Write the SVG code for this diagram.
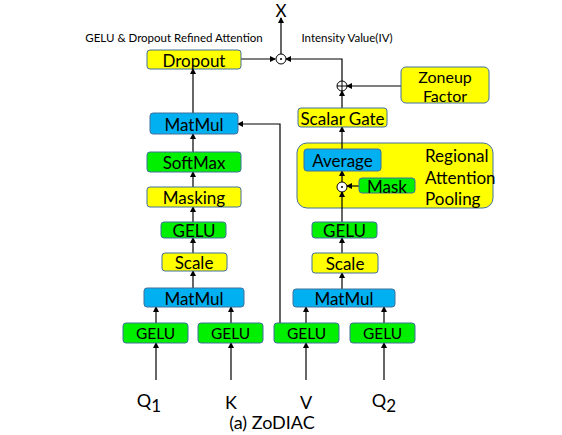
<svg xmlns="http://www.w3.org/2000/svg" width="562" height="435" viewBox="0 0 562 435">
<defs>
<marker id="ah" markerWidth="6" markerHeight="6" refX="5" refY="3" orient="auto" markerUnits="userSpaceOnUse">
<path d="M0,0 L6,3 L0,6 z" fill="#000"/>
</marker>
<style>
.box{stroke:#41719C;stroke-width:1}
.y{fill:#FFFF00}.g{fill:#00F000}.b{fill:#00B0F0}
.t{font-family:Lato,"Liberation Sans",sans-serif;fill:#000;text-anchor:middle;dominant-baseline:central}
.c{fill:none;stroke:#000;stroke-width:1.2}
.a{marker-end:url(#ah)}
.op{fill:#fff;stroke:#000;stroke-width:1}
.lbl{font-family:Lato,"Liberation Sans",sans-serif;fill:#000}
</style>
</defs>
<rect width="562" height="435" fill="#fff"/>

<g id="regional_pooling">
<rect class="box y" x="297" y="143" width="196" height="65" rx="10"/>
<text class="lbl" x="425" y="155" font-size="17" dominant-baseline="central">Regional</text>
<text class="lbl" x="425" y="177" font-size="17" dominant-baseline="central">Attention</text>
<text class="lbl" x="425" y="198" font-size="17" dominant-baseline="central">Pooling</text>
</g>

<g id="connectors">
<path class="c a" d="M156,380 V343"/>
<path class="c a" d="M231,380 V343"/>
<path class="c a" d="M306,380 V343"/>
<path class="c a" d="M384,380 V343"/>
<path class="c a" d="M156,323 V307"/>
<path class="c a" d="M231,323 V307"/>
<path class="c a" d="M306,323 V307"/>
<path class="c a" d="M384,323 V307"/>
<path class="c a" d="M280,323 V124 H238"/>
<path class="c a" d="M193,288 V271"/>
<path class="c a" d="M193,253 V238"/>
<path class="c a" d="M193,222 V207"/>
<path class="c a" d="M193,187 V172"/>
<path class="c a" d="M193,152 V134"/>
<path class="c a" d="M193,113 V69"/>
<path class="c a" d="M241,59 H275"/>
<path class="c a" d="M281,54 V18"/>
<path class="c a" d="M342,289 V273"/>
<path class="c a" d="M342,253 V238"/>
<path class="c a" d="M342,222 V192"/>
<path class="c a" d="M359,186 H347"/>
<path class="c a" d="M342,182 V171"/>
<path class="c a" d="M342,149 V127"/>
<path class="c a" d="M342,108 V91"/>
<path class="c a" d="M401,86 H347"/>
<path class="c a" d="M342,81 V59 H286"/>
</g>

<g id="op_mul_top"><circle class="op" cx="281" cy="59" r="5"/><circle cx="281" cy="59" r="1" fill="#000"/></g>
<g id="op_add"><circle class="op" cx="342" cy="86" r="5"/><path d="M337,86 H347 M342,81 V91" stroke="#000" stroke-width="1"/></g>

<g id="out_x"><text class="t" x="281" y="10" font-size="17">X</text></g>
<g id="label_gelu_dropout"><text class="t" x="174" y="37" font-size="11.5">GELU &amp; Dropout Refined Attention</text></g>
<g id="label_iv"><text class="t" x="347" y="37" font-size="11.5">Intensity Value(IV)</text></g>

<g id="dropout"><rect class="box y" x="147" y="50" width="94" height="19" rx="3"/><text class="t" x="194" y="60" font-size="17">Dropout</text></g>
<g id="matmul_top"><rect class="box b" x="150" y="113" width="88" height="21" rx="3"/><text class="t" x="194" y="124" font-size="17">MatMul</text></g>
<g id="softmax"><rect class="box g" x="147" y="152" width="94" height="20" rx="3"/><text class="t" x="194" y="162" font-size="17">SoftMax</text></g>
<g id="masking"><rect class="box y" x="147" y="187" width="94" height="20" rx="3"/><text class="t" x="194" y="197" font-size="17">Masking</text></g>
<g id="gelu_left"><rect class="box g" x="161" y="222" width="65" height="16" rx="3"/><text class="t" x="194" y="230" font-size="17">GELU</text></g>
<g id="scale_left"><rect class="box y" x="162" y="253" width="65" height="18" rx="3"/><text class="t" x="194" y="262" font-size="17">Scale</text></g>
<g id="matmul_left"><rect class="box b" x="144" y="288" width="100" height="19" rx="3"/><text class="t" x="194" y="298" font-size="17">MatMul</text></g>

<g id="gelu_q1"><rect class="box g" x="123" y="323" width="65" height="20" rx="3"/><text class="t" x="155.5" y="333" font-size="15.5">GELU</text></g>
<g id="gelu_k"><rect class="box g" x="198" y="323" width="65" height="20" rx="3"/><text class="t" x="230.5" y="333" font-size="15.5">GELU</text></g>
<g id="gelu_v"><rect class="box g" x="274" y="323" width="65" height="20" rx="3"/><text class="t" x="306.5" y="333" font-size="15.5">GELU</text></g>
<g id="gelu_q2"><rect class="box g" x="350" y="323" width="65" height="20" rx="3"/><text class="t" x="382.5" y="333" font-size="15.5">GELU</text></g>

<g id="matmul_right"><rect class="box b" x="293" y="289" width="102" height="18" rx="3"/><text class="t" x="344" y="298" font-size="17">MatMul</text></g>
<g id="scale_right"><rect class="box y" x="312" y="253" width="66" height="20" rx="3"/><text class="t" x="345" y="263" font-size="17">Scale</text></g>
<g id="gelu_right"><rect class="box g" x="312" y="222" width="65" height="16" rx="3"/><text class="t" x="344.5" y="230" font-size="17">GELU</text></g>

<g id="average"><rect class="box b" x="304" y="149" width="77" height="22" rx="3"/><text class="t" x="342.5" y="160" font-size="17">Average</text></g>
<g id="mask"><rect class="box g" x="359" y="178" width="56" height="15" rx="3"/><text class="t" x="387" y="186" font-size="17">Mask</text></g>
<g id="op_mul_mask"><circle class="op" cx="342" cy="187" r="5"/><circle cx="342" cy="187" r="1" fill="#000"/></g>

<g id="scalar_gate"><rect class="box y" x="298" y="108" width="89" height="19" rx="3"/><text class="t" x="342.5" y="118" font-size="17">Scalar Gate</text></g>
<g id="zoneup"><rect class="box y" x="401" y="67" width="88" height="36" rx="5"/><text class="t" x="445" y="76.5" font-size="16">Zoneup</text><text class="t" x="445" y="95.5" font-size="16">Factor</text></g>

<g id="inputs" class="lbl" font-size="18">
<text x="149" y="407" text-anchor="middle">Q<tspan font-size="17" dy="5">1</tspan></text>
<text x="231" y="409" text-anchor="middle">K</text>
<text x="306" y="409" text-anchor="middle">V</text>
<text x="384" y="407" text-anchor="middle">Q<tspan font-size="17" dy="5">2</tspan></text>
<text x="272" y="429" text-anchor="middle">(a) ZoDIAC</text>
</g>
</svg>
